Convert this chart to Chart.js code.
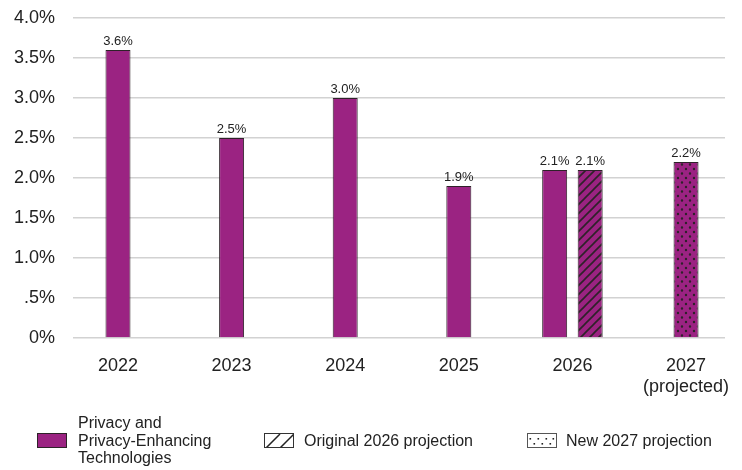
<!DOCTYPE html>
<html>
<head>
<meta charset="utf-8">
<script src="https://cdn.jsdelivr.net/npm/chart.js@4/dist/chart.umd.min.js"></script>
<style>
  html, body { margin: 0; padding: 0; background: #fff; }
  #wrap { width: 742px; height: 470px; }
</style>
</head>
<body>
<div id="wrap"><canvas id="chart" width="742" height="470"></canvas></div>
<script>
// years on the x axis and what is printed under each one
var years = [2022, 2023, 2024, 2025, 2026, 2027];
var yearLabels = ['2022', '2023', '2024', '2025', '2026', ['2027', '(projected)']];

// spending share, percent
var pets = [3.6, 2.5, 3.0, 1.9, 2.1, null];
var original2026 = [null, null, null, null, 2.1, null];
var new2027 = [null, null, null, null, null, 2.2];

var yTicks = [0, 0.5, 1, 1.5, 2, 2.5, 3, 3.5, 4];
var yTickLabels = ['0%', '.5%', '1.0%', '1.5%', '2.0%', '2.5%', '3.0%', '3.5%', '4.0%'];

var seriesNames = ['Privacy and Privacy-Enhancing Technologies', 'Original 2026 projection', 'New 2027 projection'];

var PURPLE = '#9b2382';
var EDGE = '#2e2229';
var FONT = "'Liberation Sans', Arial, sans-serif";

function hatchPattern() {
  var c = document.createElement('canvas');
  c.width = 9; c.height = 9;
  var g = c.getContext('2d');
  g.fillStyle = PURPLE;
  g.fillRect(0, 0, 9, 9);
  g.strokeStyle = EDGE;
  g.lineWidth = 1.6;
  g.beginPath();
  g.moveTo(-1, 10); g.lineTo(10, -1);
  g.moveTo(-1, 1); g.lineTo(1, -1);
  g.moveTo(8, 10); g.lineTo(10, 8);
  g.stroke();
  return g.createPattern(c, 'repeat');
}

function dotPattern() {
  var c = document.createElement('canvas');
  c.width = 8; c.height = 9;
  var g = c.getContext('2d');
  g.fillStyle = PURPLE;
  g.fillRect(0, 0, 8, 9);
  g.fillStyle = EDGE;
  g.beginPath();
  g.arc(2, 2.5, 1.2, 0, Math.PI * 2);
  g.arc(6, 7, 1.2, 0, Math.PI * 2);
  g.fill();
  return g.createPattern(c, 'repeat');
}

// value printed over each bar
var valueLabels = {
  id: 'valueLabels',
  afterDatasetsDraw: function (chart) {
    var ctx = chart.ctx;
    ctx.save();
    ctx.font = '13px ' + FONT;
    ctx.fillStyle = '#222';
    ctx.textAlign = 'center';
    ctx.textBaseline = 'alphabetic';
    chart.data.datasets.forEach(function (ds, i) {
      chart.getDatasetMeta(i).data.forEach(function (bar, j) {
        var v = ds.data[j];
        if (v === null || v === undefined) return;
        ctx.fillText(v.toFixed(1) + '%', bar.x, bar.y - 5);
      });
    });
    ctx.restore();
  }
};

// legend under the axis, first entry wrapped over three lines
var bottomLegend = {
  id: 'bottomLegend',
  afterDraw: function (chart) {
    var ctx = chart.ctx;
    ctx.save();
    ctx.font = '16px ' + FONT;
    ctx.textBaseline = 'middle';
    ctx.textAlign = 'left';

    // solid swatch
    ctx.fillStyle = PURPLE;
    ctx.fillRect(37.5, 433.5, 29, 14);
    ctx.strokeStyle = EDGE;
    ctx.lineWidth = 1;
    ctx.strokeRect(37.5, 433.5, 29, 14);
    ctx.fillStyle = '#222';
    ['Privacy and', 'Privacy-Enhancing', 'Technologies'].forEach(function (t, k) {
      ctx.fillText(t, 78, 424 + k * 17.5);
    });

    // hatched swatch
    ctx.fillStyle = '#fff';
    ctx.fillRect(264.5, 433.5, 29, 14);
    ctx.save();
    ctx.beginPath();
    ctx.rect(264.5, 433.5, 29, 14);
    ctx.clip();
    ctx.strokeStyle = '#222';
    ctx.lineWidth = 1.5;
    ctx.beginPath();
    ctx.moveTo(266, 448); ctx.lineTo(280, 434);
    ctx.moveTo(280, 448); ctx.lineTo(294, 434);
    ctx.stroke();
    ctx.restore();
    ctx.strokeStyle = '#333';
    ctx.lineWidth = 1;
    ctx.strokeRect(264.5, 433.5, 29, 14);
    ctx.fillStyle = '#222';
    ctx.fillText(seriesNames[1], 304, 441.5);

    // dotted swatch
    ctx.fillStyle = '#fff';
    ctx.fillRect(527.5, 433.5, 29, 14);
    ctx.strokeStyle = '#555';
    ctx.strokeRect(527.5, 433.5, 29, 14);
    ctx.fillStyle = '#222';
    [530, 538, 546, 553].forEach(function (x) { ctx.fillRect(x - 0.5, 438, 1.6, 1.6); });
    [534, 542, 550].forEach(function (x) { ctx.fillRect(x - 0.5, 443, 1.6, 1.6); });
    ctx.fillText(seriesNames[2], 566, 441.5);

    ctx.restore();
  }
};

var ctx = document.getElementById('chart');

new Chart(ctx, {
  type: 'bar',
  data: {
    labels: years,
    datasets: [
      { label: seriesNames[0], data: pets, backgroundColor: PURPLE },
      { label: seriesNames[1], data: original2026, backgroundColor: hatchPattern() },
      { label: seriesNames[2], data: new2027, backgroundColor: dotPattern() }
    ]
  },
  options: {
    responsive: false,
    animation: false,
    layout: { padding: { top: 18, right: 17, bottom: 72, left: 0 } },
    datasets: {
      bar: {
        skipNull: true,
        categoryPercentage: 0.625,
        barPercentage: 0.71,
        maxBarThickness: 25,
        borderColor: EDGE,
        borderWidth: 1
      }
    },
    plugins: {
      legend: { display: false },
      tooltip: { enabled: false }
    },
    scales: {
      x: {
        type: 'linear',
        offset: false,
        min: 2022 - 0.396,
        max: 2027 + 0.343,
        grid: { display: false, offset: false },
        border: { display: false },
        afterBuildTicks: function (scale) {
          scale.ticks = years.map(function (y) { return { value: y }; });
        },
        afterFit: function (scale) {
          scale.height = 60;
          scale.paddingLeft = 0;
          scale.paddingRight = 0;
        },
        ticks: {
          padding: 10,
          color: '#222',
          font: { family: FONT, size: 18, lineHeight: 1.15 },
          maxRotation: 0,
          callback: function (value) { return yearLabels[years.indexOf(value)]; }
        }
      },
      y: {
        min: 0,
        max: 4,
        afterBuildTicks: function (scale) {
          scale.ticks = yTicks.map(function (v) { return { value: v }; });
        },
        afterFit: function (scale) {
          scale.width = 73;
          scale.paddingTop = 0;
          scale.paddingBottom = 0;
        },
        grid: { color: '#d2d2d2', lineWidth: 1.5, drawTicks: false },
        border: { display: false },
        ticks: {
          padding: 18,
          color: '#222',
          font: { family: FONT, size: 18 },
          callback: function (value) { return yTickLabels[yTicks.indexOf(value)]; }
        }
      }
    }
  },
  plugins: [valueLabels, bottomLegend]
});
</script>
</body>
</html>
